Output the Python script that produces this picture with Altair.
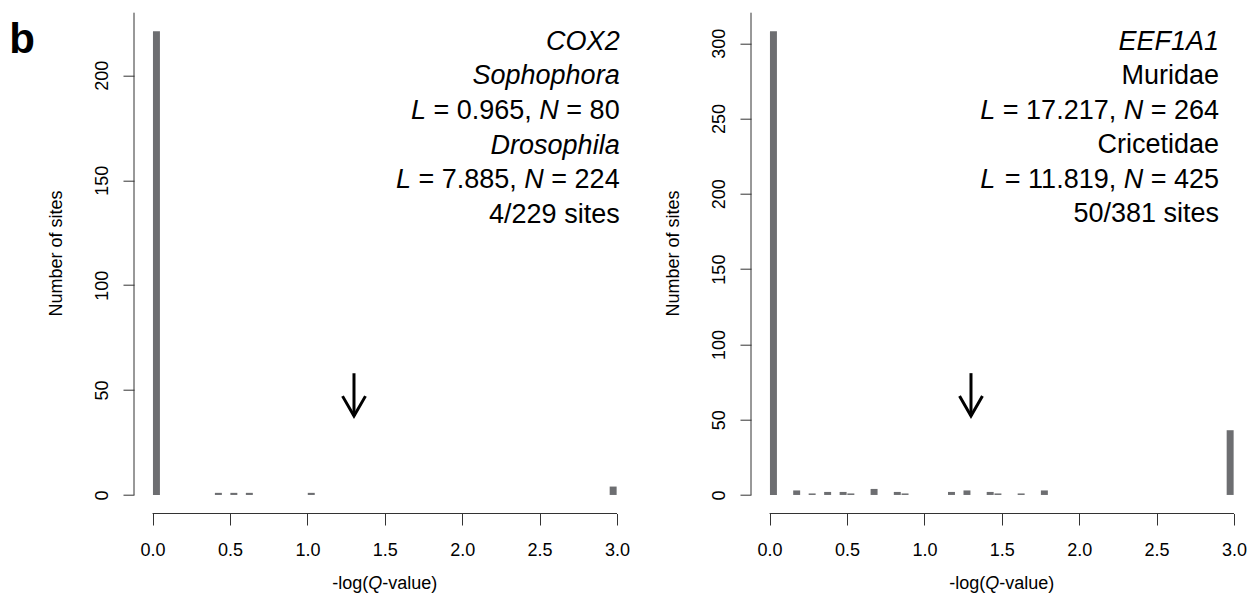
import altair as alt
import pandas as pd

# ---------------- data ----------------
# histogram bins (mid points of -log(Q) bins, width 0.05) and site counts
left_mid = [0.025, 0.425, 0.525, 0.625, 1.025, 2.975]
left_count = [221, 1, 1, 1, 1, 4]

right_mid = [0.025, 0.175, 0.275, 0.375, 0.475, 0.525, 0.675, 0.825, 0.875,
             1.175, 1.275, 1.425, 1.475, 1.625, 1.775, 2.975]
right_count = [308, 3, 1, 2, 2, 1, 4, 2, 1, 2, 3, 2, 1, 1, 3, 43]

x_ticks = [0, 0.5, 1.0, 1.5, 2.0, 2.5, 3.0]
left_y_ticks = [0, 50, 100, 150, 200]
right_y_ticks = [0, 50, 100, 150, 200, 250, 300]

# annotation lines: list of (text, style) pieces, style i = italic, n = normal
left_lines = [
    [("COX2", "i")],
    [("Sophophora", "i")],
    [("L", "i"), (" = 0.965, ", "n"), ("N", "i"), (" = 80", "n")],
    [("Drosophila", "i")],
    [("L", "i"), (" = 7.885, ", "n"), ("N", "i"), (" = 224", "n")],
    [("4/229 sites", "n")],
]
right_lines = [
    [("EEF1A1", "i")],
    [("Muridae", "n")],
    [("L", "i"), (" = 17.217, ", "n"), ("N", "i"), (" = 264", "n")],
    [("Cricetidae", "n")],
    [("L", "i"), (" = 11.819, ", "n"), ("N", "i"), (" = 425", "n")],
    [("50/381 sites", "n")],
]
# baseline of each annotation line, in data units of each panel
left_line_y = [212.1, 195.7, 179.2, 162.7, 146.3, 129.8]
right_line_y = [295.6, 272.7, 249.8, 226.9, 204.0, 181.1]
left_text_x = 3.017
right_text_x = 2.903

q_threshold = 1.301  # -log10(0.05)
# arrow: tail, tip, arm end (data units)
left_arrow = [58.0, 37.6, 47.1]
right_arrow = [80.9, 52.5, 65.8]
arrow_half = 0.074

xtitle_pieces = [("-log(", "n"), ("Q", "i"), ("-value)", "n")]
left_xtitle_y = -44.8
right_xtitle_y = -62.4

# ---------------- styling ----------------
FONT = "Liberation Sans"
BARC = "#6d6e71"
AXC = "#333333"
W = 501.6
H = 500.8
XDOM = [-0.12, 3.12]
LDOM = [-8.84, 229.84]
RDOM = [-12.32, 320.32]
BAR_HALF = 0.0225
ANN_SIZE = 27
PPX = W / (XDOM[1] - XDOM[0])

ARIAL = {' ': 278, '(': 333, ')': 333, ',': 278, '-': 333, '.': 278, '/': 278,
         '=': 584, 'L': 556, 'N': 722, 'Q': 778, 'a': 556, 'e': 556, 'g': 556,
         'l': 222, 'o': 556, 'u': 556, 'v': 500}


def tw(s, size):
    return sum(ARIAL.get(c, 556) for c in s) * size / 1000.0


def annotation_df(lines, line_y, text_x):
    rows = []
    for i, parts in enumerate(lines):
        offset = 0.0
        for raw, st in reversed(parts):
            trailing = len(raw) - len(raw.rstrip())
            right = offset + trailing * tw(" ", ANN_SIZE)
            rows.append({"x": text_x - right / PPX, "y": line_y[i],
                         "text": raw.strip(), "style": st})
            offset += tw(raw, ANN_SIZE)
    return pd.DataFrame(rows)


def xtitle_df(y):
    total = sum(tw(t, 18) for t, _ in xtitle_pieces)
    start = (XDOM[0] + XDOM[1]) / 2 - total / 2 / PPX
    rows = []
    cum = 0.0
    for t, st in xtitle_pieces:
        rows.append({"x": start + cum / PPX, "y": y, "text": t, "style": st})
        cum += tw(t, 18)
    return pd.DataFrame(rows)


def panel(mids, counts, ydom, yticks, lines, line_y, text_x, arrow, xt_y, b_label=False):
    xs = alt.Scale(domain=XDOM, nice=False, zero=False)
    ys = alt.Scale(domain=ydom, nice=False, zero=False)
    xaxis = alt.Axis(values=x_ticks, format=".1f", title=None, domain=False, grid=False,
                     tickSize=11.5, tickColor=AXC, tickWidth=1,
                     labelFont=FONT, labelFontSize=18, labelColor="black",
                     labelBaseline="alphabetic", labelPadding=30.5,
                     labelFlush=False, labelOverlap=False)
    yaxis = alt.Axis(values=yticks, format="d", title="Number of sites", domain=False,
                     grid=False, tickSize=11, tickColor=AXC, tickWidth=1,
                     labelFont=FONT, labelFontSize=18, labelColor="black",
                     labelAngle=270, labelAlign="center", labelBaseline="alphabetic",
                     labelPadding=16, labelFlush=False, labelOverlap=False,
                     titleFont=FONT, titleFontSize=18, titleFontWeight="normal",
                     titleColor="black", titleAngle=270, titleAlign="center",
                     titleBaseline="alphabetic", titleX=-72.7, titleY=H / 2 - 10)

    def X(f):
        return alt.X(f, scale=xs, axis=xaxis)

    def Y(f):
        return alt.Y(f, scale=ys, axis=yaxis)

    bars = pd.DataFrame({
        "x": [m - BAR_HALF for m in mids],
        "x2": [m + BAR_HALF for m in mids],
        "y0": [0] * len(mids),
        "count": counts,
    })
    bar_layer = alt.Chart(bars).mark_rect(color=BARC).encode(
        x=X("x:Q"), x2="x2:Q", y=Y("y0:Q"), y2="count:Q")

    ax = pd.DataFrame({"x": [0, XDOM[0]], "x2": [3, XDOM[0]],
                       "y": [ydom[0], 0], "y2": [ydom[0], ydom[1]]})
    axis_layer = alt.Chart(ax).mark_rule(color=AXC, strokeWidth=1).encode(
        x=X("x:Q"), x2="x2:Q", y=Y("y:Q"), y2="y2:Q")

    shaft = pd.DataFrame({"x": [q_threshold], "y": [arrow[0]], "y2": [arrow[1]]})
    shaft_layer = alt.Chart(shaft).mark_rule(color="black", strokeWidth=3, strokeCap="butt").encode(
        x=X("x:Q"), y=Y("y:Q"), y2="y2:Q")
    head = pd.DataFrame({"x": [q_threshold - arrow_half, q_threshold, q_threshold + arrow_half],
                         "y": [arrow[2], arrow[1], arrow[2]]})
    head_layer = alt.Chart(head).mark_line(color="black", strokeWidth=3, strokeJoin="miter",
                                           strokeCap="butt").encode(
        x=X("x:Q"), y=Y("y:Q"))

    ann = annotation_df(lines, line_y, text_x)
    layers = [bar_layer, axis_layer, shaft_layer, head_layer]
    for st, fs in (("i", "italic"), ("n", "normal")):
        sub = ann[ann["style"] == st]
        if len(sub):
            layers.append(alt.Chart(sub).mark_text(
                font=FONT, fontSize=ANN_SIZE, fontStyle=fs, align="right",
                baseline="alphabetic", color="black").encode(
                x=X("x:Q"), y=Y("y:Q"), text="text:N"))
    xt = xtitle_df(xt_y)
    for st, fs in (("i", "italic"), ("n", "normal")):
        sub = xt[xt["style"] == st]
        layers.append(alt.Chart(sub).mark_text(
            font=FONT, fontSize=18, fontStyle=fs, align="left",
            baseline="alphabetic", color="black").encode(
            x=X("x:Q"), y=Y("y:Q"), text="text:N"))
    if b_label:
        bdf = pd.DataFrame({"x": [XDOM[0] - 124.7 / PPX],
                            "y": [ydom[1] - 40.6 / (H / (ydom[1] - ydom[0]))],
                            "text": ["b"]})
        layers.append(alt.Chart(bdf).mark_text(
            font=FONT, fontSize=42, fontWeight="bold", align="left",
            baseline="alphabetic", color="black").encode(
            x=X("x:Q"), y=Y("y:Q"), text="text:N"))
    return alt.layer(*layers).properties(width=W, height=H)


left = panel(left_mid, left_count, LDOM, left_y_ticks, left_lines, left_line_y,
             left_text_x, left_arrow, left_xtitle_y, b_label=True)
right = panel(right_mid, right_count, RDOM, right_y_ticks, right_lines, right_line_y,
              right_text_x, right_arrow, right_xtitle_y)

chart = alt.hconcat(left, right, spacing=28).configure_view(stroke=None).properties(
    padding={"left": 9, "top": 11.7, "right": 0, "bottom": 0},
    background="white",
)

chart.save("out.html", embed_options={"renderer": "svg", "actions": False})
